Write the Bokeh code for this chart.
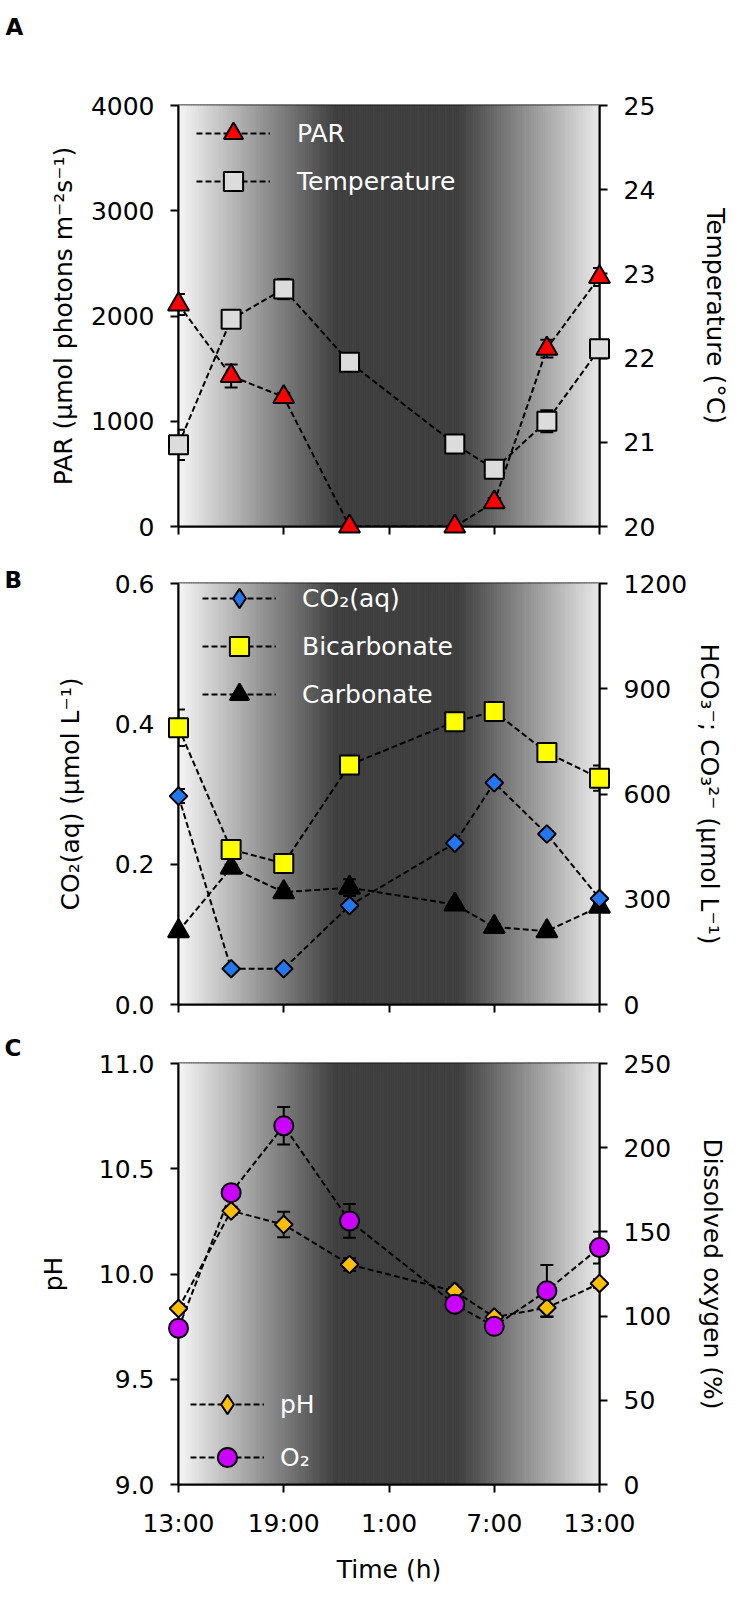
import numpy as np
from bokeh.plotting import figure
from bokeh.models import (Range1d, LinearAxis, FixedTicker, Whisker, TeeHead,
                          ColumnDataSource, Legend, LegendItem, PrintfTickFormatter)
from bokeh.core.properties import value
from bokeh.layouts import column
from bokeh.embed import file_html
from bokeh.resources import INLINE

# ---------------- data ----------------
hours = [0, 3, 6, 9.75, 15.75, 18, 21, 24]          # hours after 13:00
tick_hours = [0, 6, 12, 18, 24]
tick_labels = ["13:00", "19:00", "1:00", "7:00", "13:00"]

par = [2110, 1430, 1230, 0, 0, 230, 1690, 2370]
par_err = [100, 110, 40, 0, 0, 40, 85, 85]
temp = [20.97, 22.46, 22.82, 21.95, 20.98, 20.68, 21.25, 22.11]
temp_err = [0.18, 0.05, 0.12, 0.06, 0.05, 0.05, 0.13, 0.06]

co2 = [0.297, 0.051, 0.051, 0.141, 0.230, 0.316, 0.243, 0.151]
co2_err = [0.01, 0.003, 0.003, 0.005, 0.004, 0.005, 0.004, 0.005]
bicarb = [789, 442, 402, 683, 806, 835, 718, 645]
bicarb_err = [52, 10, 8, 23, 10, 8, 10, 36]
carb = [209, 390, 320, 333, 285, 221, 209, 279]
carb_err = [6, 8, 12, 24, 8, 8, 6, 8]

ph = [9.836, 10.30, 10.235, 10.045, 9.918, 9.795, 9.84, 9.955]
ph_err = [0.02, 0.02, 0.061, 0.03, 0.02, 0.02, 0.044, 0.02]
o2 = [92.8, 173.3, 213, 156.5, 107, 93.9, 115, 140.7]
o2_err = [3, 3, 11.1, 10, 3, 2, 15.3, 9.4]

# light/dark background (day-night shading) stops
shade_hours = [0, 9, 16, 24]
shade_grey = [246, 63, 63, 232]

FONT = "DejaVu Sans"
FS = "25px"
FRAME = 421
DASH = "6 3"


def style_axis(ax, label, label_standoff):
    ax.axis_label = label
    ax.axis_label_text_font = FONT
    ax.axis_label_text_font_size = FS
    ax.axis_label_text_font_style = "normal"
    ax.axis_label_text_color = "black"
    ax.axis_label_standoff = label_standoff
    ax.major_label_text_font = FONT
    ax.major_label_text_font_size = FS
    ax.major_label_text_color = "black"
    ax.major_label_standoff = 16
    ax.axis_line_width = 2
    ax.axis_line_color = "black"
    ax.major_tick_line_width = 2
    ax.major_tick_line_color = "black"
    ax.major_tick_out = 8
    ax.major_tick_in = 0
    ax.minor_tick_line_color = None


def make_panel(yl, yr, lticks, rticks, lfmt, rfmt, llabel, rlabel, lstand, rstand,
               btop, bbot, show_x):
    p = figure(frame_width=FRAME, frame_height=FRAME, x_range=Range1d(0, 24),
               y_range=Range1d(*yl), output_backend="svg", toolbar_location=None,
               title=None, min_border_left=178, min_border_right=131,
               min_border_top=btop, min_border_bottom=bbot)
    p.grid.visible = False
    p.outline_line_color = "black"
    p.outline_line_width = 2
    p.background_fill_color = "white"
    p.extra_y_ranges = {"right": Range1d(*yr)}

    # day / night shading
    xs = np.linspace(0, 24, 241)
    g = np.interp((xs[:-1] + xs[1:]) / 2, shade_hours, shade_grey).round().astype(int)
    cols = ["#%02x%02x%02x" % (v, v, v) for v in g]
    p.quad(left=xs[:-1], right=xs[1:], bottom=yl[0], top=yl[1], fill_color=cols,
           line_color=cols, line_width=1, level="image")

    xa = p.xaxis[0]
    style_axis(xa, "Time (h)", 14)
    xa.ticker = FixedTicker(ticks=tick_hours)
    xa.major_label_overrides = {t: l for t, l in zip(tick_hours, tick_labels)}
    if not show_x:
        xa.axis_label = None
        xa.major_label_text_color = None
        xa.major_label_text_font_size = "2px"
        xa.major_label_standoff = 0

    ya = p.yaxis[0]
    style_axis(ya, llabel, lstand)
    ya.ticker = FixedTicker(ticks=lticks)
    ya.formatter = PrintfTickFormatter(format=lfmt)

    ra = LinearAxis(y_range_name="right")
    style_axis(ra, rlabel, rstand)
    ra.ticker = FixedTicker(ticks=rticks)
    ra.formatter = PrintfTickFormatter(format=rfmt)
    p.add_layout(ra, "right")
    return p


def series(p, y, err, marker, size, color, rng=None, angle=0.0, legend_marker=None):
    kw = {} if rng is None else {"y_range_name": rng}
    src = ColumnDataSource(dict(x=hours, y=y, up=[a + b for a, b in zip(y, err)],
                                lo=[a - b for a, b in zip(y, err)]))
    p.add_layout(Whisker(source=src, base="x", upper="up", lower="lo", dimension="height",
                         line_width=2, line_color="black",
                         upper_head=TeeHead(size=13, line_width=2, line_color="black"),
                         lower_head=TeeHead(size=13, line_width=2, line_color="black"),
                         **kw))
    ln = p.line("x", "y", source=src, line_dash=DASH, line_width=2, line_color="black", **kw)
    sc = p.scatter("x", "y", source=src, marker=marker, size=size, fill_color=color,
                   line_color="black", line_width=2, angle=angle, level="overlay", **kw)
    leg = sc
    if legend_marker is not None:
        # legend-only twin (hidden in the plot) so the key shows a diamond
        leg = p.scatter("x", "y", source=src, marker=legend_marker, size=size,
                        fill_color=color, line_color="black", line_width=2,
                        visible=False, **kw)
    return ln, leg


def add_legend(p, items, loc, gh, spacing, standoff):
    leg = Legend(items=[LegendItem(label=l, renderers=list(r)) for l, r in items],
                 location=loc, glyph_width=74, glyph_height=gh, spacing=spacing,
                 label_standoff=standoff, padding=0, margin=0,
                 background_fill_alpha=0, border_line_alpha=0, inactive_fill_alpha=0,
                 label_text_color="white", label_text_font=FONT, label_text_font_size=FS)
    p.add_layout(leg)


def add_letter(p, text, dx_px, dy_px):
    # panel letter placed dx_px left of the frame and dy_px above its top edge
    xr, yr = p.x_range, p.y_range
    x = xr.start + dx_px / FRAME * (xr.end - xr.start)
    y = yr.end + dy_px / FRAME * (yr.end - yr.start)
    p.text(x=[x], y=[y], text=[text], text_font=value(FONT), text_font_size=value("23px"),
           text_font_style="bold", text_color="black", text_baseline="alphabetic",
           text_align="left", level="overlay")


# ---------------- panel A ----------------
pA = make_panel((0, 4000), (20, 25), [0, 1000, 2000, 3000, 4000], [20, 21, 22, 23, 24, 25],
                "%d", "%d", "PAR (µmol photons m⁻²s⁻¹)", "Temperature (°C)", 10, 43,
                105, 28, False)
a1 = series(pA, temp, temp_err, "square", 19, "#dcdcdc", rng="right")
a2 = series(pA, par, par_err, "triangle", 21, "#ff0000")
add_legend(pA, [("PAR", a2), ("Temperature", a1)], (18, 321), 48, -5, 27)
add_letter(pA, "A", -173, 79)

# ---------------- panel B ----------------
pB = make_panel((0, 0.6), (0, 1200), [0, 0.2, 0.4, 0.6], [0, 300, 600, 900, 1200],
                "%.1f", "%d", "CO₂(aq) (µmol L⁻¹)", "HCO₃⁻; CO₃²⁻ (µmol L⁻¹)", 27, 5,
                29, 30, False)
b3 = series(pB, carb, carb_err, "triangle", 21, "#000000", rng="right")
b2 = series(pB, bicarb, bicarb_err, "square", 19, "#ffff00", rng="right")
b1 = series(pB, co2, co2_err, "square", 12.5, "#2277ee", angle=np.pi / 4,
            legend_marker="diamond")
add_legend(pB, [("CO₂(aq)", b1), ("Bicarbonate", b2), ("Carbonate", b3)],
           (24, 286), 48, -7, 26)
add_letter(pB, "B", -174, 4)

# ---------------- panel C ----------------
pC = make_panel((9, 11), (0, 250), [9, 9.5, 10, 10.5, 11], [0, 50, 100, 150, 200, 250],
                "%.1f", "%d", "pH", "Dissolved oxygen (%)", 28, 24,
                29, 97, True)
c1 = series(pC, ph, ph_err, "square", 12.5, "#ffbf00", angle=np.pi / 4,
            legend_marker="diamond")
c2 = series(pC, o2, o2_err, "circle", 19, "#cc00ff", rng="right")
add_legend(pC, [("pH", c1), ("O₂", c2)], (12, 3), 48, 5, 16)
add_letter(pC, "C", -174, 16)

layout = column(pA, pB, pC)
open("out.html", "w").write(file_html(layout, INLINE))
